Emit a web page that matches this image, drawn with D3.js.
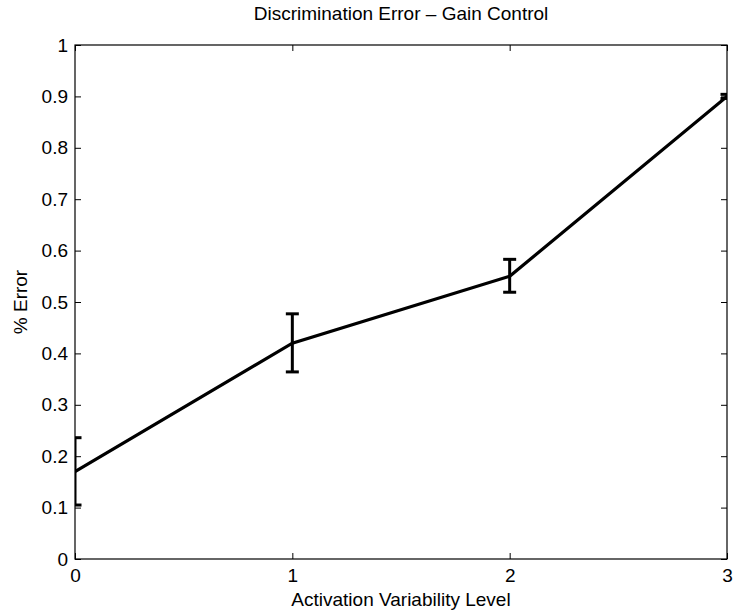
<!DOCTYPE html>
<html lang="en">
<head>
<meta charset="UTF-8" />
<script src="https://d3js.org/d3.v7.min.js"></script>
<style>
  body { margin: 0; background: #fff; }
  svg text { font-family: "Liberation Sans", Arial, sans-serif; fill: #000; }
</style>
</head>
<body>
<svg id="chart" width="733" height="611"></svg>
<script>
  // data
  const levels = [0, 1, 2, 3];
  const errorMean = [0.17, 0.42, 0.55, 0.90];
  const errorLow = [0.105, 0.364, 0.519, 0.896];
  const errorHigh = [0.236, 0.477, 0.583, 0.904];
  const xTicks = [0, 1, 2, 3];
  const yTicks = [0, 0.1, 0.2, 0.3, 0.4, 0.5, 0.6, 0.7, 0.8, 0.9, 1];

  const svg = d3.select("#chart");
  const margin = { top: 45, right: 6, bottom: 52, left: 75 };
  const width = +svg.attr("width") - margin.left - margin.right;
  const height = +svg.attr("height") - margin.top - margin.bottom;

  const x = d3.scaleLinear().domain([0, 3]).range([0, width]);
  const y = d3.scaleLinear().domain([0, 1]).range([height, 0]);

  const g = svg.append("g").attr("transform", `translate(${margin.left},${margin.top})`);

  g.append("clipPath").attr("id", "plotClip")
    .append("rect").attr("width", width).attr("height", height);

  // axes with inward ticks on all four sides
  const axisStyle = sel => {
    sel.selectAll(".domain").remove();
    sel.selectAll("line").attr("stroke", "#000");
    sel.selectAll("text").attr("font-size", "19px");
  };
  g.append("g").attr("transform", `translate(0,${height})`)
    .call(d3.axisBottom(x).tickValues(xTicks).tickSize(-6).tickPadding(10).tickFormat(d3.format("d")))
    .call(axisStyle);
  g.append("g")
    .call(d3.axisTop(x).tickValues(xTicks).tickSize(-6).tickFormat(""))
    .call(axisStyle);
  g.append("g")
    .call(d3.axisLeft(y).tickValues(yTicks).tickSize(-6).tickPadding(7).tickFormat(d => String(+d.toFixed(1))))
    .call(axisStyle);
  g.append("g").attr("transform", `translate(${width},0)`)
    .call(d3.axisRight(y).tickValues(yTicks).tickSize(-6).tickFormat(""))
    .call(axisStyle);

  g.append("rect")
    .attr("width", width).attr("height", height)
    .attr("fill", "none").attr("stroke", "#000").attr("stroke-width", 1.2);

  const pts = levels.map((d, i) => ({ x: d, m: errorMean[i], lo: errorLow[i], hi: errorHigh[i] }));

  const plot = g.append("g").attr("clip-path", "url(#plotClip)");

  // error bars
  const capW = 6.5;
  const bars = plot.append("g").attr("stroke", "#000").attr("stroke-width", 3);
  pts.forEach(p => {
    bars.append("line").attr("x1", x(p.x)).attr("x2", x(p.x)).attr("y1", y(p.lo)).attr("y2", y(p.hi));
    bars.append("line").attr("x1", x(p.x) - capW).attr("x2", x(p.x) + capW).attr("y1", y(p.lo)).attr("y2", y(p.lo));
    bars.append("line").attr("x1", x(p.x) - capW).attr("x2", x(p.x) + capW).attr("y1", y(p.hi)).attr("y2", y(p.hi));
  });

  plot.append("path")
    .datum(pts)
    .attr("fill", "none").attr("stroke", "#000").attr("stroke-width", 3.2)
    .attr("d", d3.line().x(d => x(d.x)).y(d => y(d.m)));

  // titles
  svg.append("text")
    .attr("x", margin.left + width / 2).attr("y", 20)
    .attr("text-anchor", "middle").attr("font-size", "19px")
    .text("Discrimination Error \u2013 Gain Control");
  svg.append("text")
    .attr("x", margin.left + width / 2).attr("y", 606)
    .attr("text-anchor", "middle").attr("font-size", "19px")
    .text("Activation Variability Level");
  svg.append("text")
    .attr("transform", `translate(27,${margin.top + height / 2}) rotate(-90)`)
    .attr("text-anchor", "middle").attr("font-size", "19px")
    .text("% Error");
</script>
</body>
</html>
